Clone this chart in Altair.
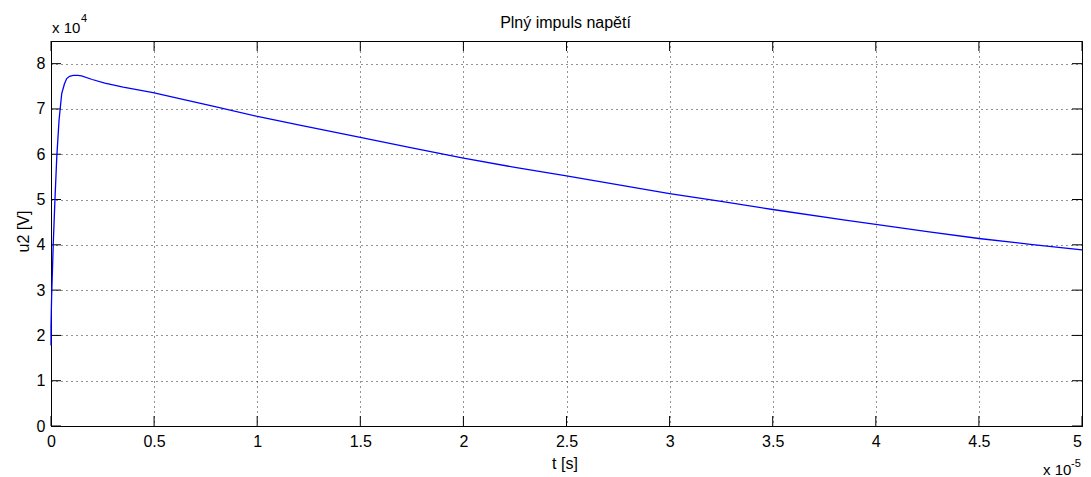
import altair as alt
import pandas as pd

# Curve (t in units of 1e-5 s, u2 in units of 1e4 V)
t_vals = [0.0, 0.0, 0.003, 0.011, 0.019, 0.028, 0.039, 0.052, 0.065, 0.076,
          0.09, 0.108, 0.13, 0.148, 0.2, 0.261, 0.35, 0.495, 0.65, 0.785,
          0.995, 1.2, 1.446, 1.494, 1.75, 1.994, 2.25, 2.5, 2.655, 3.0,
          3.25, 3.5, 3.86, 4.0, 4.25, 4.5, 4.75, 5.0]
u_vals = [1.78, 2.2, 2.85, 4.03, 4.98, 5.94, 6.75, 7.34, 7.55, 7.67,
          7.72, 7.74, 7.74, 7.73, 7.65, 7.57, 7.48, 7.36, 7.2, 7.06,
          6.84, 6.65, 6.42, 6.38, 6.14, 5.92, 5.71, 5.52, 5.4, 5.13,
          4.96, 4.78, 4.54, 4.45, 4.29, 4.14, 4.01, 3.89]

x_ticks = [0, 0.5, 1, 1.5, 2, 2.5, 3, 3.5, 4, 4.5, 5]
y_ticks = [0, 1, 2, 3, 4, 5, 6, 7, 8]

title_text = "Plný impuls napětí"
x_title = "t [s]"
y_title = "u2 [V]"
x_exp_base, x_exp_pow = "x 10", "-5"
y_exp_base, y_exp_pow = "x 10", "4"

W, H = 1031, 385
FONT = "Liberation Sans"
FS = 16

df = pd.DataFrame({"t": t_vals, "u": u_vals})
dfx = pd.DataFrame({"t": x_ticks})
dfy = pd.DataFrame({"u": y_ticks})
one = pd.DataFrame({"a": [0]})

xaxis = alt.Axis(values=x_ticks, format="~g", ticks=False, labelPadding=7,
                 labelFontSize=FS, labelFont=FONT, labelColor="black",
                 labelFlush=False,
                 labelOffset={"condition": {"test": "datum.value >= 5", "value": -5},
                              "value": 0},
                 grid=True, gridDash=[1, 4], gridColor="#000",
                 gridOpacity=0.85, domainColor="black", title=x_title,
                 titleFont=FONT, titleFontSize=FS, titleFontWeight="normal",
                 titleColor="black", titleX=W / 2 - 2, titleY=37,
                 titleBaseline="middle", titleAlign="center", zindex=0)
yaxis = alt.Axis(values=y_ticks, format="d", ticks=False, labelPadding=6,
                 labelFontSize=FS, labelFont=FONT, labelColor="black",
                 labelFlush=False, grid=True, gridDash=[1, 4], gridColor="#000",
                 gridOpacity=0.85, domainColor="black", title=y_title,
                 titleFont=FONT, titleFontSize=FS, titleFontWeight="normal",
                 titleColor="black", titleX=-28, titleY=190, titleAngle=270,
                 titleBaseline="middle", titleAlign="center", zindex=0)

xs = alt.Scale(domain=[0, 5], nice=False, zero=False)
ys = alt.Scale(domain=[0, 8.5], nice=False, zero=False)


def X():
    return alt.X("t:Q", scale=xs, axis=xaxis)


def Y():
    return alt.Y("u:Q", scale=ys, axis=yaxis)


line = alt.Chart(df).mark_line(color="#0000ff", strokeWidth=1.3).encode(
    x=X(), y=Y(), order=alt.Order("idx:Q")
).transform_window(idx="row_number()")

tick_top = alt.Chart(dfx).mark_rule(color="black", strokeWidth=1).encode(
    x=X(), y=alt.value(0), y2=alt.value(10))
tick_bot = alt.Chart(dfx).mark_rule(color="black", strokeWidth=1).encode(
    x=X(), y=alt.value(H - 10), y2=alt.value(H))
tick_left = alt.Chart(dfy).mark_rule(color="black", strokeWidth=1).encode(
    y=Y(), x=alt.value(0), x2=alt.value(10))
tick_right = alt.Chart(dfy).mark_rule(color="black", strokeWidth=1).encode(
    y=Y(), x=alt.value(W - 10), x2=alt.value(W))


def txt(text, x, y, size, align="left"):
    return alt.Chart(one).mark_text(
        text=text, font=FONT, fontSize=size, color="black", align=align,
        baseline="alphabetic").encode(x=alt.value(x), y=alt.value(y))


title = txt(title_text, W / 2 - 1, -13, FS, "center")
ye1 = txt(y_exp_base, 1, -8, 15)
ye2 = txt(y_exp_pow, 30, -19, 11)
xe1 = txt(x_exp_base, W - 39, 434, 15)
xe2 = txt(x_exp_pow, W - 11, 426, 11)

chart = alt.layer(tick_top, tick_bot, tick_left, tick_right, line,
                  title, ye1, ye2, xe1, xe2).properties(
    width=W, height=H,
    padding={"left": 43, "top": 33, "right": 1, "bottom": 51},
    autosize=alt.AutoSizeParams(type="none"),
    background="white",
).configure_view(stroke="black", strokeWidth=1)

chart.save("out.html", embed_options={"renderer": "svg", "actions": False})
